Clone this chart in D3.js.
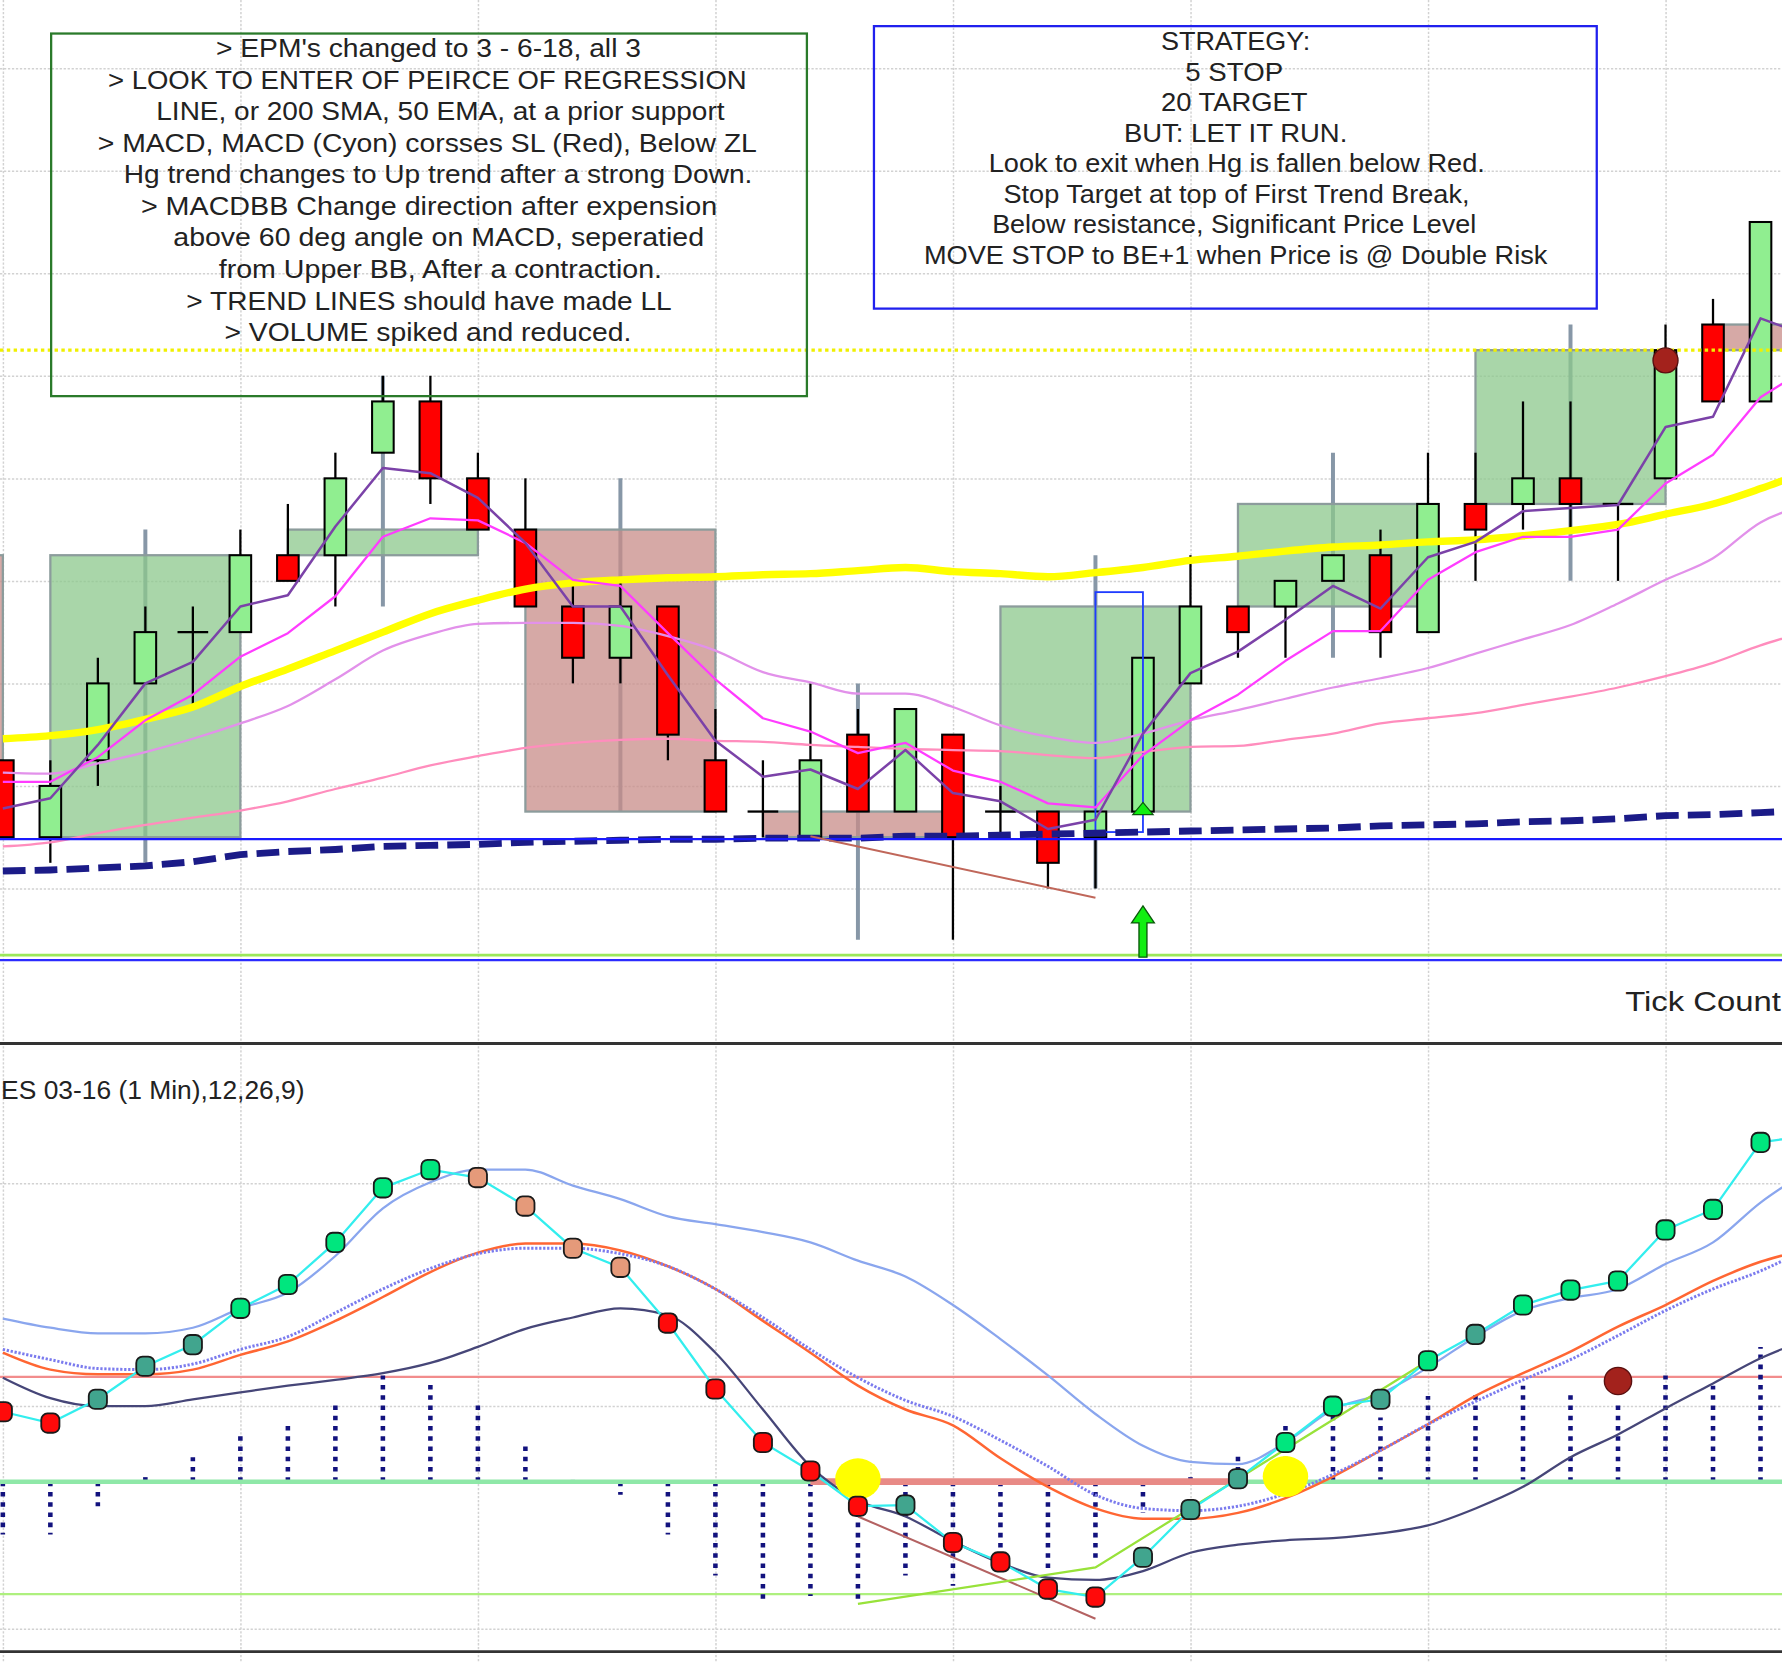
<!DOCTYPE html>
<html>
<head>
<meta charset="utf-8">
<title>ES 03-16 (1 Min)</title>
<script src="https://cdn.jsdelivr.net/npm/d3@7"></script>
<style>
  html, body { margin: 0; padding: 0; background: #fff; overflow: hidden; }
  svg { display: block; }
</style>
</head>
<body>
<script>
// ---- 1 min bars (ES 03-16), index 0 = first bar on screen ----
const opens  = [1926.25, 1925.50, 1926.25, 1927.00, 1927.50, 1927.50, 1928.25, 1928.25, 1929.25, 1929.75,
                1929.00, 1928.50, 1927.75, 1927.25, 1927.75, 1926.25, 1925.75, 1925.50, 1926.50, 1925.75,
                1926.50, 1925.75, 1925.75, 1925.50, 1925.75, 1927.00, 1927.75, 1927.75, 1928.00, 1928.25,
                1927.50, 1928.75, 1928.75, 1929.00, 1928.75, 1929.00, 1930.50, 1929.75];
const highs  = [1926.25, 1926.25, 1927.25, 1927.75, 1927.75, 1928.50, 1928.75, 1929.25, 1930.00, 1930.00,
                1929.25, 1929.00, 1928.00, 1928.00, 1927.75, 1926.75, 1926.25, 1927.00, 1926.75, 1926.75,
                1926.50, 1926.00, 1925.75, 1925.75, 1927.25, 1928.25, 1927.75, 1928.00, 1928.25, 1928.50,
                1929.25, 1929.25, 1929.75, 1929.75, 1928.75, 1930.50, 1930.75, 1931.50];
const lows   = [1925.50, 1925.25, 1926.00, 1927.00, 1926.75, 1927.50, 1928.00, 1927.75, 1929.25, 1928.75,
                1928.50, 1927.75, 1927.00, 1927.00, 1926.25, 1925.75, 1925.50, 1925.50, 1925.75, 1925.75,
                1924.50, 1925.50, 1925.00, 1925.00, 1925.75, 1927.00, 1927.25, 1927.25, 1928.00, 1927.25,
                1927.50, 1928.00, 1928.50, 1928.50, 1928.00, 1929.00, 1929.75, 1929.75];
const closes = [1925.50, 1926.00, 1927.00, 1927.50, 1927.50, 1928.25, 1928.00, 1929.00, 1929.75, 1929.00,
                1928.50, 1927.75, 1927.25, 1927.75, 1926.50, 1925.75, 1925.75, 1926.25, 1925.75, 1926.75,
                1925.50, 1925.75, 1925.25, 1925.75, 1927.25, 1927.75, 1927.50, 1928.00, 1928.25, 1927.50,
                1928.75, 1928.50, 1929.00, 1928.75, 1928.75, 1930.25, 1929.75, 1931.50];

// ---- 5 min blocks drawn behind the bars (first one mostly off the left edge) ----
const block5Start = [-4, 1, 6, 11, 16, 21, 26, 31, 36];
const block5Open  = [1928.25, 1925.50, 1928.25, 1928.50, 1925.75, 1925.75, 1927.75, 1928.75, 1930.50];
const block5High  = [1928.50, 1928.50, 1930.00, 1929.00, 1927.00, 1928.25, 1929.25, 1930.50, 1931.50];
const block5Low   = [1926.00, 1925.25, 1927.75, 1925.75, 1924.50, 1925.00, 1927.25, 1928.00, 1929.75];
const block5Close = [1926.25, 1928.25, 1928.50, 1925.75, 1925.50, 1927.75, 1928.75, 1930.25, 1930.25];

// ---- price indicators (last value is the bar just past the right edge) ----
const ema3  = [1925.78, 1925.88, 1926.40, 1927.00, 1927.21, 1927.75, 1927.86, 1928.53, 1929.10, 1929.05,
               1928.81, 1928.37, 1927.75, 1927.75, 1927.08, 1926.44, 1926.09, 1926.16, 1925.97, 1926.35,
               1925.93, 1925.85, 1925.58, 1925.67, 1926.51, 1927.10, 1927.31, 1927.62, 1927.95, 1927.73,
               1928.23, 1928.38, 1928.68, 1928.71, 1928.74, 1929.50, 1929.60, 1930.56, 1930.39];
const ema6  = [1926.04, 1926.04, 1926.28, 1926.64, 1926.89, 1927.26, 1927.49, 1927.85, 1928.43, 1928.61,
               1928.59, 1928.37, 1928.01, 1927.95, 1927.49, 1927.04, 1926.66, 1926.53, 1926.32, 1926.42,
               1926.15, 1926.04, 1925.83, 1925.79, 1926.30, 1926.64, 1926.89, 1927.22, 1927.51, 1927.51,
               1928.01, 1928.28, 1928.43, 1928.43, 1928.50, 1928.95, 1929.23, 1929.79, 1930.08];
const ema18 = [1926.13, 1926.12, 1926.22, 1926.33, 1926.46, 1926.61, 1926.78, 1927.04, 1927.32, 1927.48,
               1927.58, 1927.59, 1927.59, 1927.56, 1927.46, 1927.32, 1927.11, 1927.01, 1926.90, 1926.90,
               1926.77, 1926.59, 1926.48, 1926.42, 1926.51, 1926.64, 1926.74, 1926.85, 1926.96, 1927.05,
               1927.15, 1927.29, 1927.43, 1927.57, 1927.78, 1928.01, 1928.22, 1928.57, 1928.74];
const ema50 = [1926.46, 1926.49, 1926.55, 1926.65, 1926.77, 1926.97, 1927.14, 1927.32, 1927.50, 1927.68,
               1927.81, 1927.92, 1927.98, 1928.01, 1928.03, 1928.04, 1928.06, 1928.07, 1928.10, 1928.13,
               1928.09, 1928.07, 1928.04, 1928.08, 1928.13, 1928.20, 1928.24, 1928.29, 1928.33, 1928.35,
               1928.38, 1928.40, 1928.44, 1928.49, 1928.55, 1928.65, 1928.75, 1928.90, 1929.07];
const sma200 = [1925.41, 1925.45, 1925.54, 1925.62, 1925.69, 1925.76, 1925.85, 1925.97, 1926.08, 1926.20,
                1926.29, 1926.37, 1926.42, 1926.45, 1926.46, 1926.44, 1926.43, 1926.40, 1926.38, 1926.36,
                1926.35, 1926.34, 1926.30, 1926.27, 1926.33, 1926.38, 1926.39, 1926.45, 1926.51, 1926.61,
                1926.66, 1926.71, 1926.79, 1926.87, 1926.96, 1927.07, 1927.20, 1927.37, 1927.51];
const regression = [1925.17, 1925.18, 1925.20, 1925.22, 1925.26, 1925.33, 1925.36, 1925.38, 1925.41, 1925.42,
                    1925.43, 1925.45, 1925.46, 1925.47, 1925.48, 1925.48, 1925.49, 1925.49, 1925.49, 1925.51,
                    1925.51, 1925.52, 1925.53, 1925.54, 1925.55, 1925.56, 1925.57, 1925.58, 1925.59, 1925.61,
                    1925.62, 1925.63, 1925.65, 1925.66, 1925.68, 1925.71, 1925.72, 1925.74, 1925.76];

const priceGrid = [1933, 1932, 1931, 1930, 1929, 1928, 1927, 1926, 1925];
const gridBars = [0, 5, 10, 15, 20, 25, 30, 35];
const supportLevel = 1925.48, resistLevel = 1930.25, greenFloor = 1924.35, blueFloor = 1924.30;
const priceTrend = [{i: 17, p: 1925.51}, {i: 23, p: 1924.91}];
const entryBox = {from: 23, to: 24, top: 1927.89, bottom: 1925.55};
const entryArrow = {i: 24, tip: 1924.83, base: 1924.33};
const entryTick = {i: 24, tip: 1925.84, base: 1925.72};
const exitDot = {i: 35, p: 1930.15};

// ---- MACDBB (12,26,9) ----
const macd = [0.314, 0.263, 0.370, 0.518, 0.615, 0.778, 0.885, 1.074, 1.319, 1.401,
              1.365, 1.237, 1.048, 0.962, 0.712, 0.416, 0.176, 0.048, -0.110, -0.105,
              -0.273, -0.360, -0.482, -0.518, -0.339, -0.125, 0.013, 0.176, 0.339, 0.370,
              0.543, 0.661, 0.793, 0.860, 0.901, 1.130, 1.222, 1.523, 1.554];
const macdState = "RRTTTGGGGGSSSSRRRRRTRRRRTTTGGTGTGGGGGG".split("");
const macdUpper = [0.732, 0.691, 0.666, 0.666, 0.691, 0.778, 0.849, 1.013, 1.227, 1.344,
                   1.401, 1.401, 1.329, 1.268, 1.191, 1.156, 1.120, 1.074, 0.992, 0.921,
                   0.793, 0.640, 0.477, 0.304, 0.161, 0.089, 0.079, 0.176, 0.324, 0.395,
                   0.513, 0.651, 0.768, 0.824, 0.865, 0.977, 1.074, 1.253, 1.395];
const macdMid = [0.594, 0.548, 0.508, 0.503, 0.528, 0.594, 0.651, 0.758, 0.865, 0.957,
                 1.023, 1.048, 1.048, 1.023, 0.967, 0.865, 0.737, 0.594, 0.467, 0.365,
                 0.293, 0.186, 0.069, -0.059, -0.120, -0.130, -0.110, -0.054, 0.033, 0.140,
                 0.258, 0.360, 0.457, 0.548, 0.656, 0.768, 0.865, 0.946, 1.048];
const macdSignal = [0.579, 0.503, 0.482, 0.482, 0.503, 0.569, 0.630, 0.722, 0.829, 0.941,
                    1.028, 1.069, 1.069, 1.038, 0.967, 0.865, 0.722, 0.579, 0.431, 0.324,
                    0.253, 0.105, -0.023, -0.120, -0.166, -0.166, -0.140, -0.074, 0.023, 0.140,
                    0.258, 0.385, 0.487, 0.584, 0.696, 0.793, 0.901, 0.987, 1.043];
const macdLower = [0.467, 0.375, 0.339, 0.339, 0.370, 0.401, 0.431, 0.457, 0.487, 0.533,
                   0.605, 0.686, 0.737, 0.778, 0.747, 0.579, 0.324, 0.069, -0.084, -0.156,
                   -0.268, -0.365, -0.431, -0.441, -0.401, -0.319, -0.283, -0.263, -0.253, -0.232,
                   -0.196, -0.120, -0.023, 0.110, 0.212, 0.329, 0.441, 0.554, 0.640];
const macdHist = [-0.237, -0.237, -0.110, 0.033, 0.110, 0.212, 0.258, 0.344, 0.477, 0.436,
                  0.344, 0.171, 0.008, -0.059, -0.237, -0.421, -0.538, -0.513, -0.548, -0.421,
                  -0.467, -0.411, -0.401, -0.365, -0.140, 0.033, 0.125, 0.258, 0.339, 0.288,
                  0.385, 0.395, 0.431, 0.395, 0.360, 0.477, 0.431, 0.605];
const macdGrid = [1.34, 0.34, -0.66];
const macdUpLevel = 0.47, macdDownLevel = -0.505;
const zeroCross = [17, 26];
const crossMarks = [{i: 18, v: 0.013}, {i: 27, v: 0.023}];
const macdExit = {i: 34, v: 0.452};
const macdDownTrend = [{i: 18, v: -0.156}, {i: 23, v: -0.615}];
const macdUpTrend = [{i: 18, v: -0.548}, {i: 23, v: -0.385}, {i: 30, v: 0.543}];

// ---- notes ----
const rulesNotes = [
  "> EPM's changed to 3 - 6-18, all 3",
  "> LOOK TO ENTER OF PEIRCE OF REGRESSION",
  "LINE, or 200 SMA, 50 EMA, at a prior support",
  "> MACD, MACD (Cyon) corsses SL (Red), Below ZL",
  "Hg trend changes to Up trend after a strong Down.",
  "> MACDBB Change direction after expension",
  "above 60 deg angle on MACD, seperatied",
  "from Upper BB, After a contraction.",
  "> TREND LINES should have made LL",
  "> VOLUME spiked and reduced."
];
const strategyNotes = [
  "STRATEGY:",
  "5 STOP",
  "20 TARGET",
  "BUT: LET IT RUN.",
  "Look to exit when Hg is fallen below Red.",
  "Stop Target at top of First Trend Break,",
  "Below resistance, Significant Price Level",
  "MOVE STOP to BE+1 when Price is @ Double Risk"
];
const macdTitle = "ES 03-16 (1 Min),12,26,9)";
const panelTitle = "Tick Count";

// layout (in a 1568 x 1463 frame)
const W = 1568, H = 1463;
const rulesLeft = [190, 95, 137.5, 86, 109, 124, 152.5, 192.5, 164, 197.5];
const rulesWidth = [374, 562, 500, 580, 553, 507, 467, 390, 427, 358];
const stratLeft = [1021.5, 1043, 1021.5, 989, 870, 883, 873, 813];
const stratWidth = [131.5, 86, 129, 196.5, 436.5, 410, 426, 548.5];

const svg = d3.select("body").append("svg")
  .attr("width", 1782).attr("height", 1663)
  .attr("viewBox", `0 0 ${W} ${H}`)
  .attr("preserveAspectRatio", "none")
  .style("font-family", "'Liberation Sans', Arial, sans-serif");

svg.append("rect").attr("width", W).attr("height", H).attr("fill", "#fff");

// scales
const x = d3.scaleLinear().domain([0, 37]).range([2.5, 1549.1]);
const yP = d3.scaleLinear().domain([1933, 1925]).range([60, 781.6]);
const yM = d3.scaleLinear().domain([0, 1]).range([1303.5, 1107.5]);

const defs = svg.append("defs");
defs.append("clipPath").attr("id", "clipP")
  .append("rect").attr("x", 0).attr("y", 0).attr("width", W).attr("height", 917);
defs.append("clipPath").attr("id", "clipM")
  .append("rect").attr("x", 0).attr("y", 919).attr("width", W).attr("height", 533);

// grid
function styleGrid(g) {
  g.select(".domain").remove();
  g.selectAll("line").attr("stroke", "#d2d2d2").attr("stroke-width", 1.3).attr("stroke-dasharray", "2,1.5");
}
svg.append("g")
  .call(d3.axisBottom(x).tickValues(gridBars).tickSize(H).tickFormat(""))
  .call(styleGrid);
svg.append("g")
  .call(d3.axisRight(yP).tickValues(priceGrid).tickSize(W).tickFormat(""))
  .call(styleGrid);
svg.append("g")
  .call(d3.axisRight(yM).tickValues(macdGrid).tickSize(W).tickFormat(""))
  .call(styleGrid);

// ================= price panel =================
const p = svg.append("g").attr("clip-path", "url(#clipP)");

const blocks = block5Start.map((s, k) => ({
  s, o: block5Open[k], h: block5High[k], l: block5Low[k], c: block5Close[k]
}));

p.selectAll(".blockRange").data(blocks).join("line")
  .attr("x1", d => x(d.s + 2)).attr("x2", d => x(d.s + 2))
  .attr("y1", d => yP(d.h)).attr("y2", d => yP(d.l))
  .attr("stroke", "#8797a7").attr("stroke-width", 3.5);

p.selectAll(".block").data(blocks).join("rect")
  .attr("x", d => x(d.s)).attr("width", d => x(d.s + 4) - x(d.s))
  .attr("y", d => yP(Math.max(d.o, d.c)))
  .attr("height", d => Math.max(1, yP(Math.min(d.o, d.c)) - yP(Math.max(d.o, d.c))))
  .attr("fill", d => d.c >= d.o ? "#8cc88c" : "#c88c88").attr("fill-opacity", 0.75)
  .attr("stroke", "#8c9c9c").attr("stroke-width", 2);

const candles = opens.map((o, i) => ({i, o, h: highs[i], l: lows[i], c: closes[i]}));
const bw = 19;

p.selectAll(".wick").data(candles).join("line")
  .attr("x1", d => x(d.i)).attr("x2", d => x(d.i))
  .attr("y1", d => yP(d.h)).attr("y2", d => yP(d.l))
  .attr("stroke", "#000").attr("stroke-width", 2);

p.selectAll(".body").data(candles.filter(d => d.o !== d.c)).join("rect")
  .attr("x", d => x(d.i) - bw / 2).attr("width", bw)
  .attr("y", d => yP(Math.max(d.o, d.c)))
  .attr("height", d => yP(Math.min(d.o, d.c)) - yP(Math.max(d.o, d.c)))
  .attr("fill", d => d.c > d.o ? "#90ee90" : "#ff0000")
  .attr("stroke", "#000").attr("stroke-width", 1.8);

p.selectAll(".doji").data(candles.filter(d => d.o === d.c)).join("line")
  .attr("x1", d => x(d.i) - bw / 2 - 4).attr("x2", d => x(d.i) + bw / 2 + 4)
  .attr("y1", d => yP(d.o)).attr("y2", d => yP(d.o))
  .attr("stroke", "#000").attr("stroke-width", 2);

// blue entry rectangle
p.append("rect")
  .attr("x", x(entryBox.from)).attr("width", x(entryBox.to) - x(entryBox.from))
  .attr("y", yP(entryBox.top)).attr("height", yP(entryBox.bottom) - yP(entryBox.top))
  .attr("fill", "none").attr("stroke", "#1f3cff").attr("stroke-width", 1.6);

// moving averages
const lineP = d3.line().x((d, i) => x(i)).y(d => yP(d));
const priceSeries = [
  {values: sma200, color: "#ff8dbd", width: 2, curve: d3.curveMonotoneX},
  {values: ema18, color: "#e291ea", width: 2, curve: d3.curveMonotoneX},
  {values: ema50, color: "#ffff00", width: 6.5, curve: d3.curveMonotoneX},
  {values: regression, color: "#1b1b88", width: 6, dash: "20,8", curve: d3.curveLinear},
  {values: ema6, color: "#ff3cff", width: 2, curve: d3.curveLinear},
  {values: ema3, color: "#7b42a8", width: 2.2, curve: d3.curveLinear}
];
priceSeries.forEach(s => {
  p.append("path").datum(s.values)
    .attr("d", lineP.curve(s.curve))
    .attr("fill", "none").attr("stroke", s.color).attr("stroke-width", s.width)
    .attr("stroke-dasharray", s.dash || null).attr("stroke-linejoin", "round");
});

// horizontal levels
p.append("line").attr("x1", 0).attr("x2", W).attr("y1", yP(supportLevel)).attr("y2", yP(supportLevel))
  .attr("stroke", "#1a1aff").attr("stroke-width", 2);
p.append("line").attr("x1", 0).attr("x2", W).attr("y1", yP(resistLevel)).attr("y2", yP(resistLevel))
  .attr("stroke", "#f0f000").attr("stroke-width", 3).attr("stroke-dasharray", "3,3");
p.append("line").attr("x1", 0).attr("x2", W).attr("y1", yP(greenFloor)).attr("y2", yP(greenFloor))
  .attr("stroke", "#9be85a").attr("stroke-width", 2.5);
p.append("line").attr("x1", 0).attr("x2", W).attr("y1", yP(blueFloor)).attr("y2", yP(blueFloor))
  .attr("stroke", "#2b2bff").attr("stroke-width", 2);

// down trend line under the lows
p.append("path").datum(priceTrend)
  .attr("d", d3.line().x(d => x(d.i)).y(d => yP(d.p)))
  .attr("fill", "none").attr("stroke", "#c0675a").attr("stroke-width", 1.8);

// exit dot
p.append("ellipse").attr("cx", x(exitDot.i)).attr("cy", yP(exitDot.p)).attr("rx", 11).attr("ry", 11)
  .attr("fill", "#a3221c").attr("stroke", "#5a1010").attr("stroke-width", 1.2);

// entry arrows
function upArrow(cx, yTip, yBase, headH, headW, shaftW) {
  return `M${cx},${yTip} L${cx + headW / 2},${yTip + headH} L${cx + shaftW / 2},${yTip + headH} ` +
         `L${cx + shaftW / 2},${yBase} L${cx - shaftW / 2},${yBase} L${cx - shaftW / 2},${yTip + headH} ` +
         `L${cx - headW / 2},${yTip + headH} Z`;
}
p.append("path")
  .attr("d", upArrow(x(entryArrow.i), yP(entryArrow.tip), yP(entryArrow.base), 15, 20, 7))
  .attr("fill", "#11ee11").attr("stroke", "#0b5a0b").attr("stroke-width", 1.2);
p.append("path")
  .attr("d", `M${x(entryTick.i)},${yP(entryTick.tip)} L${x(entryTick.i) + 9},${yP(entryTick.base)} L${x(entryTick.i) - 9},${yP(entryTick.base)} Z`)
  .attr("fill", "#11ee11").attr("stroke", "#0b5a0b").attr("stroke-width", 1);

// note boxes
svg.append("rect").attr("x", 45).attr("y", 29.5).attr("width", 665).attr("height", 319)
  .attr("fill", "none").attr("stroke", "#2a7a2a").attr("stroke-width", 2);
svg.append("g").selectAll("text").data(rulesNotes).join("text")
  .attr("x", (d, k) => rulesLeft[k]).attr("y", (d, k) => 50.3 + k * 27.75)
  .attr("textLength", (d, k) => rulesWidth[k]).attr("lengthAdjust", "spacingAndGlyphs")
  .attr("font-size", 22.5).attr("fill", "#222").text(d => d);

svg.append("rect").attr("x", 769).attr("y", 23).attr("width", 636).attr("height", 248.5)
  .attr("fill", "none").attr("stroke", "#2020ee").attr("stroke-width", 2);
svg.append("g").selectAll("text").data(strategyNotes).join("text")
  .attr("x", (d, k) => stratLeft[k]).attr("y", (d, k) => 44 + k * 26.9)
  .attr("textLength", (d, k) => stratWidth[k]).attr("lengthAdjust", "spacingAndGlyphs")
  .attr("font-size", 22.5).attr("fill", "#222").text(d => d);

svg.append("text").attr("x", 1430).attr("y", 889)
  .attr("textLength", 137).attr("lengthAdjust", "spacingAndGlyphs")
  .attr("font-size", 24).attr("fill", "#222").text(panelTitle);

// panel separators
[918, 1453].forEach(yy => {
  svg.append("line").attr("x1", 0).attr("x2", W).attr("y1", yy).attr("y2", yy)
    .attr("stroke", "#333").attr("stroke-width", 2.5);
});

// ================= MACD panel =================
const m = svg.append("g").attr("clip-path", "url(#clipM)");

m.append("text").attr("x", 1).attr("y", 967)
  .attr("textLength", 267).attr("lengthAdjust", "spacingAndGlyphs")
  .attr("font-size", 22).attr("fill", "#222").text(macdTitle);

[[macdUpLevel, "#f28c8c"], [macdDownLevel, "#aef07e"]].forEach(([v, c]) => {
  m.append("line").attr("x1", 0).attr("x2", W).attr("y1", yM(v)).attr("y2", yM(v))
    .attr("stroke", c).attr("stroke-width", 2);
});

// histogram
m.selectAll(".hist").data(macdHist).join("line")
  .attr("x1", (d, i) => x(i)).attr("x2", (d, i) => x(i))
  .attr("y1", yM(0)).attr("y2", d => yM(d))
  .attr("stroke", "#12127e").attr("stroke-width", 4).attr("stroke-dasharray", "4,5");

// zero line + highlighted cross segment
m.append("line").attr("x1", 0).attr("x2", W).attr("y1", yM(0)).attr("y2", yM(0))
  .attr("stroke", "#8fe8a8").attr("stroke-width", 4);
m.append("line").attr("x1", x(zeroCross[0])).attr("x2", x(zeroCross[1]))
  .attr("y1", yM(0)).attr("y2", yM(0))
  .attr("stroke", "#e88a86").attr("stroke-width", 6);

const lineM = d3.line().x((d, i) => x(i)).y(d => yM(d));
const macdSeries = [
  {values: macdLower, color: "#464678", width: 2, curve: d3.curveMonotoneX},
  {values: macdUpper, color: "#8aa6ee", width: 2, curve: d3.curveMonotoneX},
  {values: macdSignal, color: "#ff6633", width: 2.2, curve: d3.curveMonotoneX},
  {values: macdMid, color: "#7b7bee", width: 2.6, dash: "2,1.5", curve: d3.curveMonotoneX}
];
macdSeries.forEach(s => {
  m.append("path").datum(s.values)
    .attr("d", lineM.curve(s.curve))
    .attr("fill", "none").attr("stroke", s.color).attr("stroke-width", s.width)
    .attr("stroke-dasharray", s.dash || null);
});

// trend lines on the MACD
m.append("path").datum(macdDownTrend)
  .attr("d", d3.line().x(d => x(d.i)).y(d => yM(d.v)))
  .attr("fill", "none").attr("stroke", "#b46262").attr("stroke-width", 1.8);
m.append("path").datum(macdUpTrend)
  .attr("d", d3.line().x(d => x(d.i)).y(d => yM(d.v)))
  .attr("fill", "none").attr("stroke", "#98e23a").attr("stroke-width", 2);

// MACD line
m.append("path").datum(macd)
  .attr("d", lineM.curve(d3.curveLinear))
  .attr("fill", "none").attr("stroke", "#33eeee").attr("stroke-width", 2);

// cross highlights
m.selectAll(".cross").data(crossMarks).join("ellipse")
  .attr("cx", d => x(d.i)).attr("cy", d => yM(d.v)).attr("rx", 20).attr("ry", 18)
  .attr("fill", "#ffff00");

// MACD dots
const stateFill = {R: "#ff0a0a", G: "#00e67e", T: "#41a58e", S: "#e59a7a"};
m.selectAll(".dot").data(macdState).join("rect")
  .attr("x", (d, i) => x(i) - 8).attr("y", (d, i) => yM(macd[i]) - 8.5)
  .attr("width", 16).attr("height", 17).attr("rx", 5.5)
  .attr("fill", d => stateFill[d]).attr("stroke", "#1a1a1a").attr("stroke-width", 1.6);

m.append("ellipse").attr("cx", x(macdExit.i)).attr("cy", yM(macdExit.v)).attr("rx", 12).attr("ry", 12)
  .attr("fill", "#a3221c").attr("stroke", "#5a1010").attr("stroke-width", 1.2);
</script>
</body>
</html>
